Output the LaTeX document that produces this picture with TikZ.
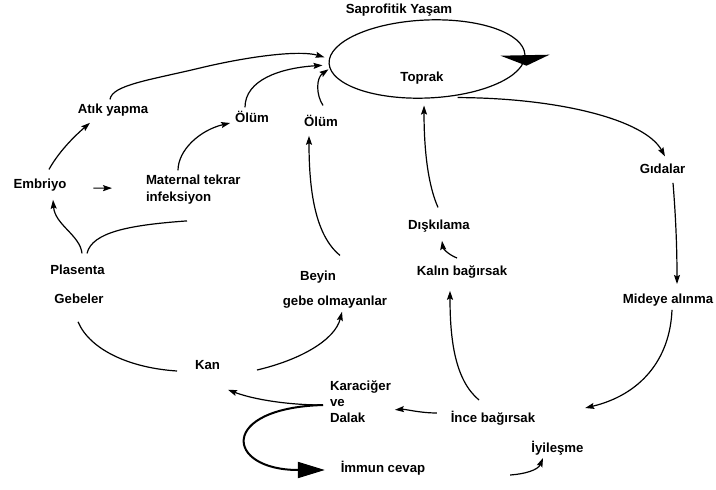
\documentclass[tikz,border=0pt]{standalone}
\usepackage{fontspec}
\setmainfont{Liberation Sans}
\usetikzlibrary{arrows.meta,calc,shapes.geometric}

\tikzset{
  lbl/.style={font=\bfseries\fontsize{13.2}{16.2}\selectfont, inner sep=0pt, outer sep=0pt,
              text height=9.6pt, text depth=2.8pt, anchor=base},
  multi/.style={font=\bfseries\fontsize{13.2}{16.2}\selectfont, inner sep=0pt, outer sep=0pt,
              align=left, anchor=north west},
  ell/.style={draw, ellipse, line width=1.2pt, minimum width=196pt, minimum height=78pt,
              inner sep=0pt, rotate=2.5},
  link/.style={line width=1.2pt},
  arr/.style={line width=1.2pt, -{Stealth[length=9pt,width=6pt,inset=1.5pt]}},
  bigarr/.style={line width=2pt, -{Triangle[length=27pt,width=16pt]}},
}

\begin{document}
\begin{tikzpicture}[x=1pt,y=-1pt]
\path[fill=white] (0,0) rectangle (716,490);
\useasboundingbox (0,0) rectangle (716,490);

% soil cycle
\node[lbl] (sap) at (399,13.5) {Saprofitik Yaşam};
\node[ell] (soil) at (427,59) {};
\node[lbl] (toprak) at (422,81) {Toprak};
\fill ($(soil.east)+(-25,1)$) -- ($(soil.east)+(24,0)$) -- ($(soil.east)+(1,11)$) -- cycle;

% labels
\node[lbl] (atik) at (113,113) {Atık yapma};
\node[lbl] (ol1) at (252,122) {Ölüm};
\node[lbl] (ol2) at (321,126) {Ölüm};
\node[lbl] (emb) at (40,188) {Embriyo};
\node[multi] (mat) at (146,175.4) {Maternal tekrar\\infeksiyon};
\node[lbl] (plas) at (77.5,274) {Plasenta};
\node[lbl] (geb) at (79,303) {Gebeler};
\node[lbl] (beyin) at (318,280) {Beyin};
\node[lbl] (gom) at (335,305) {gebe olmayanlar};
\node[lbl] (kan) at (207.5,369) {Kan};
\node[multi] (kd) at (330,380.4) {Karaciğer\\ve\\Dalak};
\node[lbl] (imm) at (383,472) {İmmun cevap};
\node[lbl] (gida) at (662.5,173) {Gıdalar};
\node[lbl] (disk) at (439,229) {Dışkılama};
\node[lbl] (kalin) at (462,275) {Kalın bağırsak};
\node[lbl] (mid) at (668,303) {Mideye alınma};
\node[lbl] (ince) at (493,422) {İnce bağırsak};
\node[lbl] (iyi) at (557.5,452) {İyileşme};

% arrows into the soil
\draw[arr] ($(atik.north)+(-3,-4)$) .. controls (112,85) and (150,80) .. (200,68)
           .. controls (250,56) and (300,50) .. ($(soil.west)+(-4,-6)$);
\draw[arr] ($(ol1.north)+(-7,-5)$) .. controls (245,80) and (280,68) .. ($(soil.west)+(-6,2)$);
\draw[arr] ($(ol2.north)+(2,-11)$) .. controls (316,95) and (316,78) .. ($(soil.west)+(0,6)$);
\draw[arr] ($(disk.north)+(-1,-12)$) .. controls (428,185) and (424,150) .. ($(soil.south)+(-4.7,7)$);

% left branch
\draw[arr] ($(emb.north)+(9,-9)$) .. controls (57,155) and (70,140) .. ($(atik.south)+(-23,7)$);
\draw[arr] ($(emb.east)+(27,3.5)$) -- ($(mat.west)+(-34,-1.5)$);
\draw[arr] ($(mat.north west)+(32,-5)$) .. controls (178,150) and (200,130) .. ($(ol1.west)+(-5,4.4)$);
\draw[arr] ($(plas.north)+(4.5,-11)$) .. controls (80,235) and (55,225) .. ($(emb.south)+(13,9)$);
\draw[link] ($(plas.north)+(9.5,-11)$) .. controls (92,232) and (130,225) .. ($(mat.south west)+(41,17)$);
\draw[link] ($(geb.south)+(-1,16)$) .. controls (90,350) and (130,368) .. ($(kan.west)+(-18,5.4)$);
\draw[arr] ($(kan.east)+(37,4.4)$) .. controls (300,360) and (335,340) .. ($(gom.south)+(7,4)$);
\draw[arr] ($(beyin.north)+(22,-15)$) .. controls (315,235) and (309,190) .. ($(ol2.south)+(-12,7)$);

% liver and spleen
\draw[arr] ($(kd.west)+(-7,3.5)$) .. controls (290,405) and (255,400) .. ($(kan.south)+(20.5,18)$);
\draw[bigarr] ($(kd.west)+(-7,3.5)$) .. controls (218,408) and (225,470) .. ($(imm.west)+(-16,1.4)$);
\draw[arr] ($(imm.east)+(85,6.4)$) .. controls (525,474) and (538,470) .. ($(iyi.south)+(-14.5,3.2)$);

% digestive route
\draw[arr] ($(soil.south)+(29,-1)$) .. controls (560,98) and (645,120) .. ($(gida.north)+(2.5,-7)$);
\draw[arr] ($(gida.south)+(10.5,7)$) .. controls (676,220) and (677,250) .. ($(mid.north)+(9,-9.4)$);
\draw[arr] ($(mid.south)+(4,4)$) .. controls (670,360) and (640,395) .. ($(ince.east)+(50,-10.6)$);
\draw[arr] ($(ince.west)+(-14,-5.6)$) .. controls (420,413) and (405,409) .. ($(kd.east)+(4,8.3)$);
\draw[arr] ($(ince.north)+(-14,-12.4)$) .. controls (455,380) and (450,340) .. ($(kalin.south)+(-12,13)$);
\draw[arr] ($(kalin.north)+(-5,-7.4)$) .. controls (447,254) and (443,248) .. ($(disk.south)+(3,9)$);
\end{tikzpicture}
\end{document}
